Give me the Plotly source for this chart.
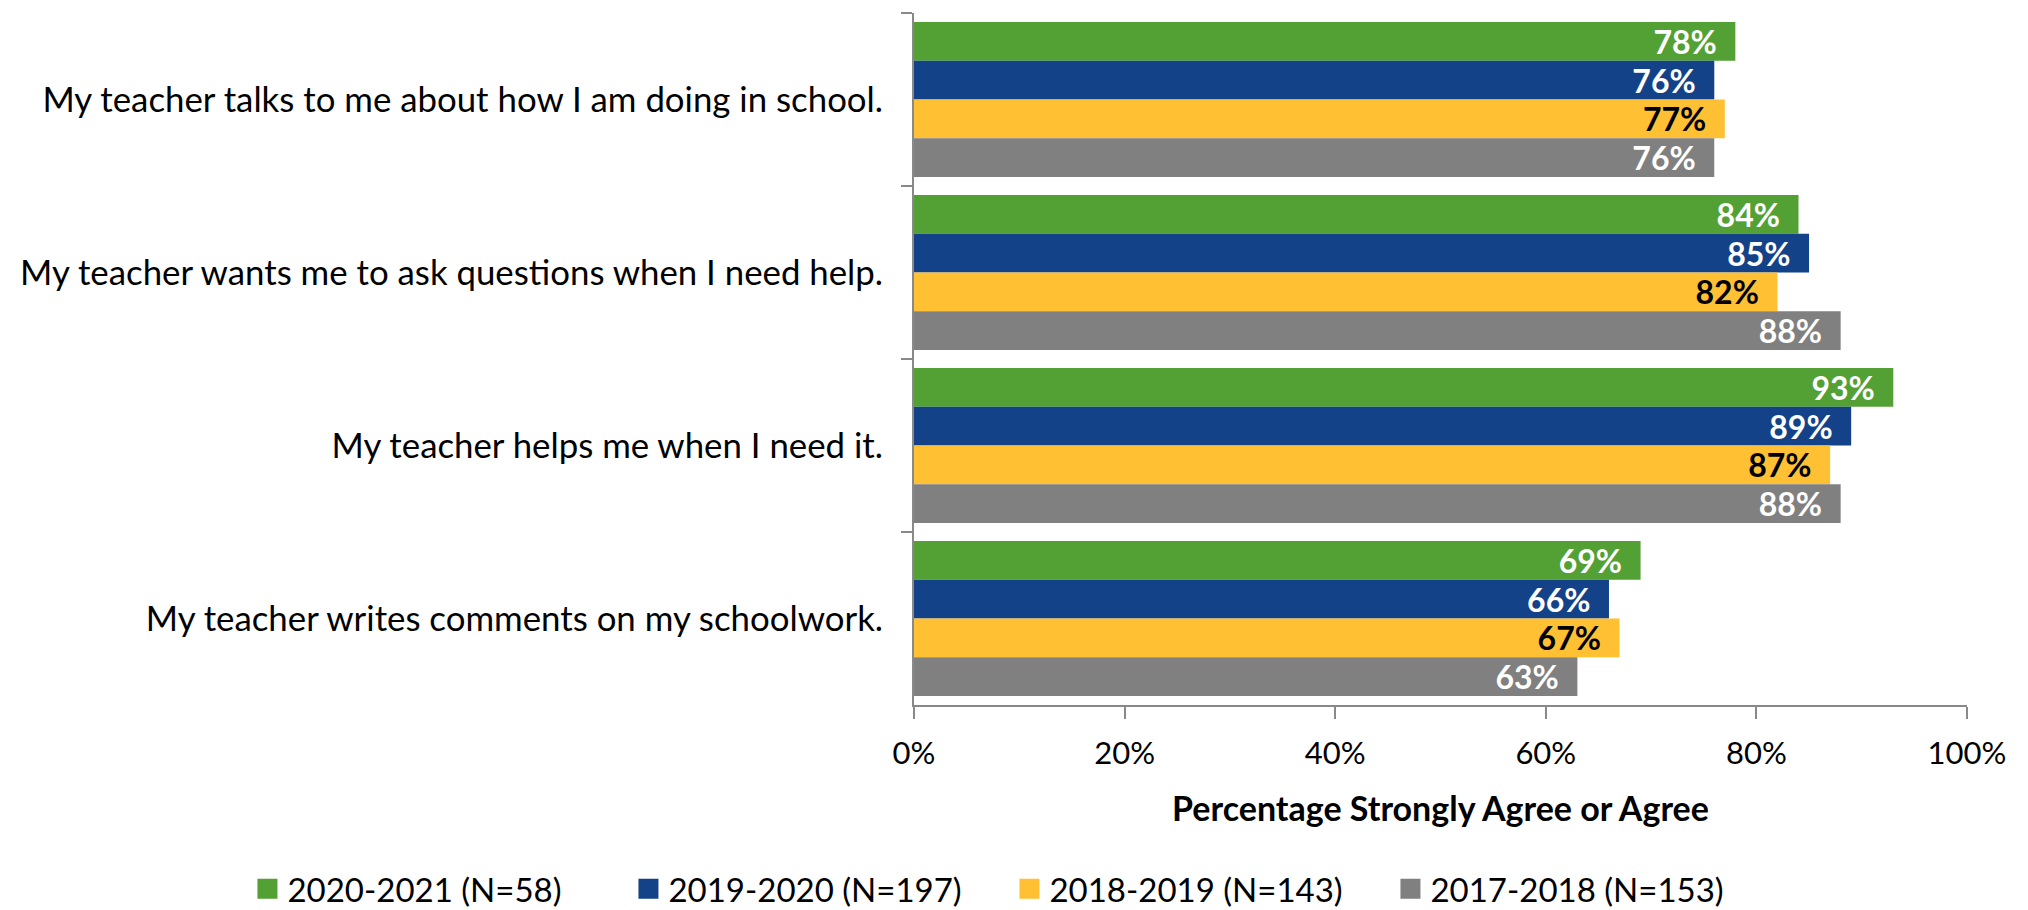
import plotly.graph_objects as go

# Данные опроса
questions = [
    "My teacher talks to me about how I am doing in school.",
    "My teacher wants me to ask questions when I need help.",
    "My teacher helps me when I need it.",
    "My teacher writes comments on my schoolwork.",
]
series_names = [
    "2020-2021 (N=58)",
    "2019-2020 (N=197)",
    "2018-2019 (N=143)",
    "2017-2018 (N=153)",
]
values_2020_2021 = [78, 84, 93, 69]
values_2019_2020 = [76, 85, 89, 66]
values_2018_2019 = [77, 82, 87, 67]
values_2017_2018 = [76, 88, 88, 63]

series_values = [values_2020_2021, values_2019_2020, values_2018_2019, values_2017_2018]
colors = ["#53A035", "#134289", "#FFC133", "#808080"]
label_colors = ["white", "white", "black", "white"]

FONT = "Lato"
AXIS_COLOR = "#898989"

fig = go.Figure()

for name, vals, color, lcolor in zip(series_names, series_values, colors, label_colors):
    fig.add_trace(go.Bar(
        name=name,
        x=vals,
        y=questions,
        orientation="h",
        marker=dict(color=color, line=dict(width=0)),
        text=[f"{v}%\u00a0\u00a0" for v in vals],
        textposition="inside",
        insidetextanchor="end",
        constraintext="none",
        textfont=dict(family=FONT, size=32, color=lcolor, weight="bold"),
        hovertemplate="<b>%{y}</b><br>" + name + ": %{x}%<extra></extra>",
        showlegend=False,
        legendgroup=name,
    ))

# Легенда: квадратные маркеры крупнее стандартных
for name, color in zip(series_names, colors):
    fig.add_trace(go.Scatter(
        name=name,
        x=[None],
        y=[None],
        mode="markers",
        marker=dict(symbol="square", size=16, color=color,
                    line=dict(width=4, color=color)),
        legendgroup=name,
        hoverinfo="skip",
    ))

# Браузер добавляет 8px отступ у body, поэтому фигура чуть меньше окна
fig.update_layout(
    barmode="group",
    bargap=0.105,
    bargroupgap=0,
    width=2020,
    height=902,
    plot_bgcolor="white",
    paper_bgcolor="white",
    font=dict(family=FONT, size=32, color="black"),
    margin=dict(l=906, r=61, t=5, b=205, autoexpand=False),
    showlegend=True,
    legend=dict(
        orientation="h",
        x=-0.633,
        xanchor="left",
        y=-0.2655,
        yanchor="middle",
        entrywidth=336,
        entrywidthmode="pixels",
        font=dict(family=FONT, size=33, color="black"),
        traceorder="normal",
    ),
)

fig.update_xaxes(
    range=[0, 100],
    dtick=20,
    ticksuffix="%",
    showgrid=False,
    zeroline=False,
    showline=True,
    linecolor=AXIS_COLOR,
    linewidth=2,
    ticks="outside",
    ticklen=12,
    tickwidth=2,
    tickcolor=AXIS_COLOR,
    tickfont=dict(family=FONT, size=31, color="black"),
    ticklabelstandoff=8,
    automargin=False,
    title=dict(
        text="<b>Percentage Strongly Agree or Agree</b>",
        font=dict(family=FONT, size=34, color="black"),
        standoff=27,
    ),
)

fig.update_yaxes(
    autorange="reversed",
    showgrid=False,
    showline=True,
    linecolor=AXIS_COLOR,
    linewidth=2,
    ticks="outside",
    ticklen=11,
    tickwidth=2,
    tickcolor=AXIS_COLOR,
    tickson="boundaries",
    tickfont=dict(family=FONT, size=34.8, color="black"),
    ticklabelstandoff=22,
    automargin=False,
)

fig.write_html("out.html")
